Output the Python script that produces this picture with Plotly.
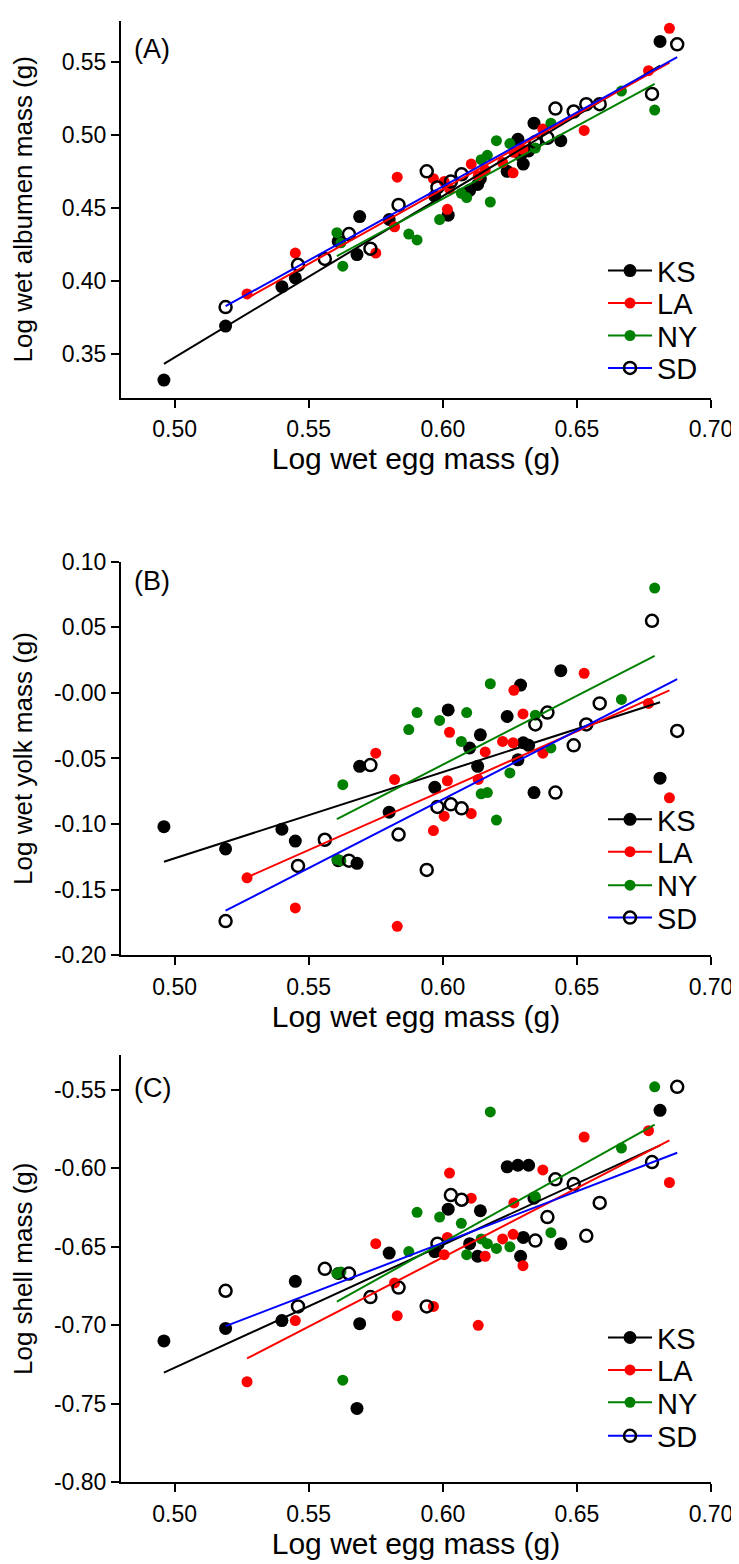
import numpy as np
import plotly.graph_objects as go

# ---------------- data ----------------
KS_X = [0.496, 0.519, 0.540, 0.545, 0.561, 0.568, 0.569, 0.580, 0.597, 0.602, 0.610,
        0.613, 0.614, 0.624, 0.628, 0.629, 0.630, 0.632, 0.634, 0.644, 0.681]
KS_ALBUMEN = [0.332, 0.369, 0.396, 0.402, 0.427, 0.418, 0.444, 0.442, 0.458, 0.445, 0.462,
              0.466, 0.470, 0.475, 0.497, 0.486, 0.480, 0.489, 0.508, 0.496, 0.564]
KS_YOLK = [-0.102, -0.119, -0.104, -0.113, -0.128, -0.130, -0.056, -0.091, -0.072, -0.013, -0.042,
           -0.056, -0.032, -0.018, -0.051, 0.006, -0.038, -0.040, -0.076, 0.017, -0.065]
KS_SHELL = [-0.710, -0.702, -0.697, -0.672, -0.667, -0.753, -0.699, -0.654, -0.653, -0.626, -0.648,
            -0.656, -0.627, -0.599, -0.598, -0.656, -0.644, -0.598, -0.619, -0.648, -0.563]

LA_X = [0.527, 0.545, 0.575, 0.582, 0.583, 0.5965, 0.6005, 0.6017, 0.6025, 0.6106,
        0.6132, 0.6158, 0.6223, 0.6262, 0.6265, 0.6299, 0.6373, 0.6527, 0.6767, 0.6845]
LA_ALBUMEN = [0.391, 0.419, 0.419, 0.437, 0.471, 0.470, 0.468, 0.449, 0.463, 0.480,
              0.472, 0.476, 0.481, 0.474, 0.488, 0.490, 0.504, 0.503, 0.544, 0.573]
LA_YOLK = [-0.141, -0.164, -0.046, -0.066, -0.178, -0.105, -0.094, -0.067, -0.030, -0.092,
           -0.066, -0.045, -0.037, -0.038, 0.002, -0.016, -0.046, 0.015, -0.008, -0.080]
LA_SHELL = [-0.736, -0.697, -0.648, -0.673, -0.694, -0.688, -0.655, -0.644, -0.603, -0.619,
            -0.700, -0.656, -0.645, -0.642, -0.622, -0.662, -0.601, -0.580, -0.576, -0.609]

NY_X = [0.5605, 0.562, 0.5627, 0.5873, 0.5904, 0.5988, 0.6069, 0.6089, 0.6143, 0.6166,
        0.6177, 0.620, 0.625, 0.6345, 0.6403, 0.6666, 0.679]
NY_ALBUMEN = [0.433, 0.426, 0.410, 0.432, 0.428, 0.442, 0.460, 0.457, 0.483, 0.486,
              0.454, 0.496, 0.494, 0.491, 0.508, 0.530, 0.517]
NY_YOLK = [-0.127, -0.128, -0.070, -0.028, -0.015, -0.021, -0.037, -0.015, -0.077, -0.076,
           0.007, -0.097, -0.061, -0.017, -0.042, -0.005, 0.080]
NY_SHELL = [-0.667, -0.666, -0.735, -0.653, -0.628, -0.631, -0.635, -0.655, -0.645, -0.648,
            -0.564, -0.651, -0.650, -0.618, -0.641, -0.587, -0.548]

SD_X = [0.519, 0.546, 0.556, 0.565, 0.573, 0.5835, 0.594, 0.598, 0.603, 0.607,
        0.6345, 0.639, 0.642, 0.6488, 0.6535, 0.6585, 0.678, 0.6874]
SD_ALBUMEN = [0.382, 0.411, 0.415, 0.432, 0.422, 0.452, 0.475, 0.464, 0.468, 0.473,
              0.495, 0.498, 0.518, 0.516, 0.521, 0.521, 0.528, 0.562]
SD_YOLK = [-0.174, -0.132, -0.112, -0.128, -0.055, -0.108, -0.135, -0.087, -0.085, -0.088,
           -0.024, -0.015, -0.076, -0.040, -0.024, -0.008, 0.055, -0.029]
SD_SHELL = [-0.678, -0.688, -0.664, -0.667, -0.682, -0.676, -0.688, -0.648, -0.617, -0.620,
            -0.646, -0.631, -0.607, -0.610, -0.643, -0.622, -0.596, -0.548]

GROUPS = ["KS", "LA", "NY", "SD"]
X_TICKS = [0.50, 0.55, 0.60, 0.65, 0.70]
X_TICK_TEXT = ["0.50", "0.55", "0.60", "0.65", "0.70"]
A_TICKS = [0.35, 0.40, 0.45, 0.50, 0.55]
A_TICK_TEXT = ["0.35", "0.40", "0.45", "0.50", "0.55"]
B_TICKS = [-0.20, -0.15, -0.10, -0.05, 0.00, 0.05, 0.10]
B_TICK_TEXT = ["-0.20", "-0.15", "-0.10", "-0.05", "-0.00", "0.05", "0.10"]
C_TICKS = [-0.80, -0.75, -0.70, -0.65, -0.60, -0.55]
C_TICK_TEXT = ["-0.80", "-0.75", "-0.70", "-0.65", "-0.60", "-0.55"]
PANEL_LABELS = ["(A)", "(B)", "(C)"]
Y_TITLES = ["Log wet albumen mass (g)", "Log wet yolk mass (g)", "Log shell mass (g)"]
X_TITLE = "Log wet egg mass (g)"

GROUP_X = {"KS": KS_X, "LA": LA_X, "NY": NY_X, "SD": SD_X}
PANEL_Y = [
    {"KS": KS_ALBUMEN, "LA": LA_ALBUMEN, "NY": NY_ALBUMEN, "SD": SD_ALBUMEN},
    {"KS": KS_YOLK, "LA": LA_YOLK, "NY": NY_YOLK, "SD": SD_YOLK},
    {"KS": KS_SHELL, "LA": LA_SHELL, "NY": NY_SHELL, "SD": SD_SHELL},
]

# ---------------- styling / layout ----------------
FONT = "Liberation Sans, Arial, Helvetica, sans-serif"
OFF = 8                      # default page margin of the html body
W, H = 739 - OFF, 1564 - OFF
ML, MR = 113, 28
MARKERS = {
    "KS": dict(symbol="circle", color="black", size=13),
    "LA": dict(symbol="circle", color="#ff0000", size=11),
    "NY": dict(symbol="circle", color="#008000", size=11),
    "SD": dict(symbol="circle-open", color="black", size=12, line=dict(width=2.5)),
}
LINE_COLORS = {"KS": "black", "LA": "#ff0000", "NY": "#008000", "SD": "#0000ff"}

# page-pixel extents (top, bottom) of each panel and its y range
PANEL_PX = [(8, 391), (558, 958), (1060, 1494)]
Y_RANGES = [[0.32, 0.578], [-0.20, 0.10], [-0.80, -0.528]]
Y_TICKS = [(A_TICKS, A_TICK_TEXT), (B_TICKS, B_TICK_TEXT), (C_TICKS, C_TICK_TEXT)]
TITLE_STANDOFF = [22, 15, 15]
LEGEND_ROWS_PX = [[262, 295, 328, 361], [820, 853, 887, 920], [1347, 1380, 1413, 1447]]
LABEL_PX = [36, 578, 1093]
LEGEND_X_PX = 603


def py(page_y):
    return min(1.0, max(0.0, 1 - (page_y - OFF) / H))


def px(page_x):
    return (page_x - OFF - ML) / (W - ML - MR)


fig = go.Figure()

for i in range(3):
    xa = "x" if i == 0 else f"x{i+1}"
    ya = "y" if i == 0 else f"y{i+1}"
    for g in GROUPS:
        fig.add_trace(go.Scatter(
            x=GROUP_X[g], y=PANEL_Y[i][g], mode="markers", marker=MARKERS[g],
            xaxis=xa, yaxis=ya, showlegend=False, hoverinfo="x+y", name=g))
    for g in GROUPS:
        xs = np.array(GROUP_X[g]); ys = np.array(PANEL_Y[i][g])
        b1, b0 = np.polyfit(xs, ys, 1)
        xl = np.array([xs.min(), xs.max()])
        fig.add_trace(go.Scatter(
            x=xl, y=b0 + b1 * xl, mode="lines",
            line=dict(color=LINE_COLORS[g], width=2),
            xaxis=xa, yaxis=ya, showlegend=False, hoverinfo="skip", name=g))
    for j, g in enumerate(GROUPS):
        n = i * 4 + j + 1
        lg = "legend" if n == 1 else f"legend{n}"
        fig.add_trace(go.Scatter(
            x=[None], y=[None], mode="lines+markers", marker=MARKERS[g],
            line=dict(color=LINE_COLORS[g], width=2),
            xaxis=xa, yaxis=ya, showlegend=True, legend=lg, name=g))

axis_common = dict(
    showline=True, linecolor="black", linewidth=2, ticks="outside", ticklen=8,
    tickwidth=2, tickcolor="black", showgrid=False, zeroline=False,
    tickfont=dict(family=FONT, size=23, color="black"),
)

layout = dict(
    width=W, height=H, margin=dict(l=ML, r=MR, t=0, b=0),
    plot_bgcolor="white", paper_bgcolor="white",
    font=dict(family=FONT, color="black"),
    annotations=[],
)

for i in range(3):
    top, bot = PANEL_PX[i]
    xk = "xaxis" if i == 0 else f"xaxis{i+1}"
    yk = "yaxis" if i == 0 else f"yaxis{i+1}"
    ya = "y" if i == 0 else f"y{i+1}"
    xa = "x" if i == 0 else f"x{i+1}"
    layout[xk] = dict(axis_common, domain=[0, 1], range=[0.48, 0.70], anchor=ya,
                      tickvals=X_TICKS, ticktext=X_TICK_TEXT, ticklabelstandoff=2,
                      title=dict(text=X_TITLE, font=dict(family=FONT, size=30), standoff=0))
    tv, tt = Y_TICKS[i]
    layout[yk] = dict(axis_common, domain=[py(bot), py(top)], range=Y_RANGES[i],
                      anchor=xa, tickvals=tv, ticktext=tt,
                      title=dict(text=Y_TITLES[i], font=dict(family=FONT, size=26),
                                 standoff=TITLE_STANDOFF[i]))
    for j in range(4):
        n = i * 4 + j + 1
        lg = "legend" if n == 1 else f"legend{n}"
        layout[lg] = dict(x=px(LEGEND_X_PX), xanchor="left", y=py(LEGEND_ROWS_PX[i][j]),
                          yanchor="middle", bgcolor="rgba(0,0,0,0)",
                          font=dict(family=FONT, size=29), itemwidth=44,
                          borderwidth=0)
    layout["annotations"].append(dict(
        text=PANEL_LABELS[i], xref="paper", yref="paper",
        x=px(132), y=py(LABEL_PX[i]), xanchor="left", yanchor="middle", showarrow=False,
        font=dict(family=FONT, size=27, color="black")))

fig.update_layout(**layout)
fig.write_html("out.html")
